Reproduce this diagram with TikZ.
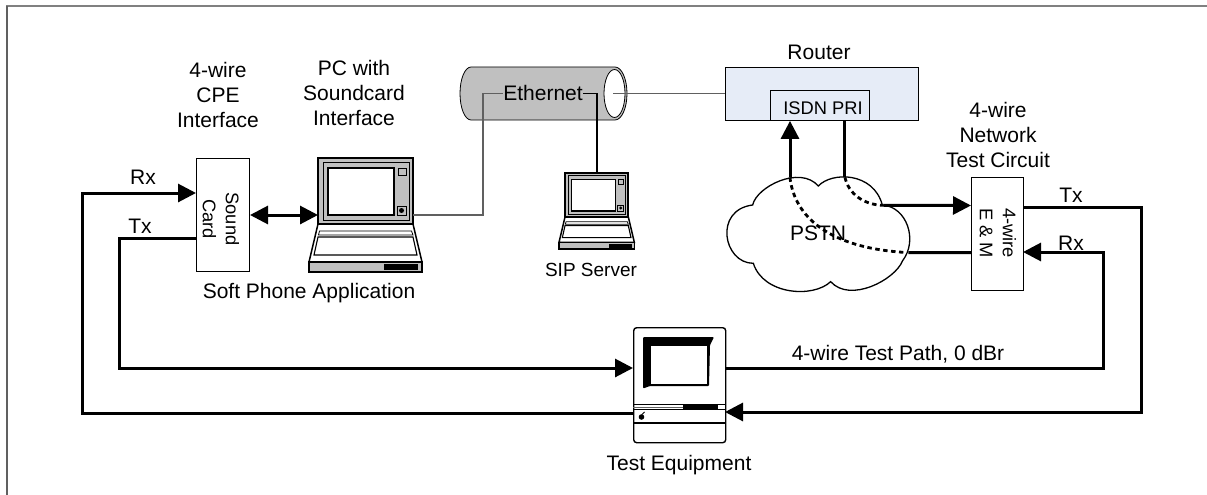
\documentclass[tikz,border=0pt]{standalone}
\usepackage{fontspec}
\setmainfont{Liberation Sans}
\usetikzlibrary{arrows.meta}
\definecolor{routerblue}{HTML}{E6ECF7}
\definecolor{midgray}{HTML}{C0C0C0}
\definecolor{wiregray}{HTML}{606060}
\tikzset{
  lbl/.style={font=\fontsize{21}{25}\selectfont,inner sep=0pt,align=center,text=black},
  inbox/.style={font=\fontsize{18.3}{23}\selectfont,inner sep=0pt,align=center,text=black},
  thickwire/.style={line width=3pt,black,line join=miter},
  thinwire/.style={line width=1.4pt,wiregray},
  bigtip/.style={-{Triangle[length=18pt,width=18pt]}},
  boxed/.style={draw=black,line width=1pt,fill=white},
  dashwire/.style={line width=2.8pt,black,dash pattern=on 4.5pt off 3.5pt},
  laptop/.pic={
    \draw[fill=midgray,line width=2pt] (0,0) rectangle (95,66);
    \draw[fill=midgray,line width=1pt] (5,4) rectangle (91,62);
    \draw[fill=white,line width=1.2pt] (10,10) rectangle (76,57);
    \draw[fill=midgray,line width=0.8pt] (80,10) rectangle (88,17);
    \draw[fill=midgray,line width=0.8pt] (79,48) rectangle (88,57);
    \fill (83.5,52.5) circle (2.5);
    \draw[fill=white,line width=1.5pt] (0,66) -- (95,66) -- (104,104) -- (-9,104) -- cycle;
    \draw[fill=white,line width=0.8pt] (1.5,73) -- (93.5,73) -- (95,77) -- (0.5,77) -- cycle;
    \draw[fill=white,line width=1.1pt] (0,79) -- (95,79) -- (99,97) -- (-4,97) -- cycle;
    \draw[fill=midgray,line width=1.5pt] (-9,104) rectangle (104,114);
    \fill (66,106) rectangle (100,112);
  }
}
\begin{document}
\begin{tikzpicture}[x=1pt,y=-1pt]
\useasboundingbox (0,0) rectangle (1207,495);
\draw[line width=2pt,draw=gray] (6,6.5) -- (1207,6.5);
\draw[line width=2pt,draw=wiregray] (6.5,6) -- (6.5,495);

% cylinder
\path[fill=midgray,draw=black,line width=0.8pt] (471,67) -- (615,67) arc[start angle=-90,end angle=90,x radius=12,y radius=26.5] -- (471,120) arc[start angle=90,end angle=270,x radius=11,y radius=26.5] -- cycle;
\draw[fill=white,line width=0.8pt] (614.5,93.5) ellipse[x radius=10.5,y radius=24];
\coordinate (cylin) at (613,93.5);

% router
\node[draw=black,line width=1pt,fill=routerblue,minimum width=193pt,minimum height=53pt,inner sep=0pt,anchor=north west] (router) at (725,67) {};
\node[draw=black,line width=0.9pt,fill=routerblue,minimum width=99pt,minimum height=30pt,inner sep=0pt,anchor=north west] (pri) at (770,90) {};
\node[inbox] at (823,108) {ISDN PRI};
\node[lbl] at (819,52) {Router};

% cloud
\begin{scope}[shift={(710,50)},x=0.3333pt,y=-0.3333pt]
\draw[fill=white,line width=1.3pt] (128,465)
 .. controls (140,410) and (270,345) .. (325,408)
 .. controls (365,365) and (490,365) .. (517,465)
 .. controls (590,470) and (625,570) .. (578,632)
 .. controls (555,690) and (420,760) .. (362,695)
 .. controls (310,745) and (160,735) .. (130,640)
 .. controls (40,640) and (10,480) .. (128,465) -- cycle;
\coordinate (cA) at (240,382);
\coordinate (cB) at (405,382);
\coordinate (cC) at (520,466);
\coordinate (cD) at (595,608);
\end{scope}
\node[lbl] at (818,233) {PSTN};
\begin{scope}[shift={(710,50)},x=0.3333pt,y=-0.3333pt]
\draw[dashwire] (cA) .. controls (250,480) and (330,590) .. (580,607);
\draw[dashwire] (cB) .. controls (415,430) and (460,465) .. (cC);
\end{scope}

% end boxes
\node[boxed,minimum width=53pt,minimum height=113pt,inner sep=0pt,anchor=north west] (card) at (196,158) {};
\node[inbox,rotate=-90] at (221,219) {Sound\\Card};
\node[boxed,minimum width=52pt,minimum height=113pt,inner sep=0pt,anchor=north west] (em) at (971,177) {};
\node[inbox,rotate=-90] at (998,233) {4-wire\\E \& M};

% laptops
\coordinate (lap1) at (318,158);
\pic at (lap1) {laptop};
\coordinate (lap1w) at (318,215);
\coordinate (lap1e) at (413,215);
\begin{scope}[shift={(565,173)},scale=0.6667,transform shape]
\pic {laptop};
\end{scope}
\coordinate (lap2n) at (597,173);

% test equipment
\node[draw=black,line width=1.4pt,fill=white,rounded corners=3pt,minimum width=92pt,minimum height=115pt,inner sep=0pt,anchor=north west] (te) at (633,327) {};
\fill[black,rounded corners=1pt] (643,337) -- (714,337) -- (710,345) -- (709,386) -- (650,386) -- (643,388.5) -- cycle;
\fill[white] (651,346) rectangle (707,383.5);
\draw[line width=1pt] (633,404.5) -- (725,404.5);
\draw[line width=1pt,wiregray] (633,407) -- (683,407);
\draw[line width=1pt] (633,409) -- (725,409);
\fill (683,404.5) rectangle (718,409);
\draw[line width=1.2pt] (633,423) -- (725,423);
\fill (641.5,417) circle (2.8);
\draw[line width=1pt] (642,414.5) -- (644.5,412);

% thin wires
\coordinate (e1) at (503,93.5);
\coordinate (e2) at (583,93.5);
\coordinate (e3) at (597,93.5);
\draw[thinwire] (lap1e) -- (483,215) -- (483,93.5) -- (e1);
\draw[line width=1.1pt,black] (e2) -- (e3) -- (lap2n);
\draw[thinwire] (cylin) -- (router.west |- cylin);
\node[lbl] at (543,93) {Ethernet};

% thick connectors
\draw[thickwire,{Triangle[length=18pt,width=18pt]}-{Triangle[length=18pt,width=18pt]}] (card.east |- lap1w) -- (lap1w);
\coordinate (rxL) at (196,193);
\coordinate (txL) at (196,238);
\coordinate (teLt) at (633,368);
\coordinate (teLb) at (633,413);
\coordinate (teRt) at (725,368);
\coordinate (teRb) at (725,412);
\draw[thickwire,bigtip] (teLb) -- (82,413) -- (82,193) -- (rxL);
\draw[thickwire,bigtip] (txL) -- (119.5,238) -- (119.5,368) -- (teLt);
\draw[thickwire,bigtip] (1023,207) -- (1141,207) -- (1141,412) -- (teRb);
\draw[thickwire,bigtip] (teRt) -- (1103,368) -- (1103,252) -- (1023,252);
\draw[thickwire,bigtip] (cA) -- (cA |- pri.south);
\draw[thickwire] (cB) -- (cB |- pri.south);
\draw[thickwire,bigtip] (cC) -- (971,205.5);
\draw[thickwire] (cD) -- (971,252.5);

% labels
\node[lbl] at (218,95) {4-wire\\CPE\\Interface};
\node[lbl] at (354,93) {PC with\\Soundcard\\Interface};
\node[lbl] at (309,293) {Soft Phone Application};
\node[lbl,font=\fontsize{19}{23}\selectfont] at (591,270) {SIP Server};
\node[lbl] at (998,135) {4-wire\\Network\\Test Circuit};
\node[lbl] at (143,177) {Rx};
\node[lbl] at (140,226) {Tx};
\node[lbl] at (1071,195) {Tx};
\node[lbl] at (1071,243) {Rx};
\node[lbl] at (898,354) {4-wire Test Path, 0 dBr};
\node[lbl] at (679,465) {Test Equipment};
\end{tikzpicture}
\end{document}
